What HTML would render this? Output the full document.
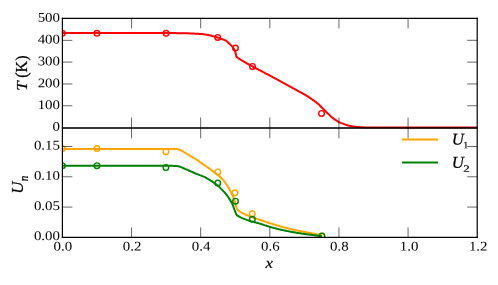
<!DOCTYPE html>
<html><head><meta charset="utf-8"><title>plot</title>
<style>
html,body{margin:0;padding:0;background:#fff;}
svg{display:block;will-change:transform;font-family:"Liberation Serif",serif;}
</style></head><body>
<svg width="498" height="285" viewBox="0 0 498 285">
<defs>
<clipPath id="c1"><rect x="62.4" y="18.4" width="414.8" height="110.39999999999999"/></clipPath>
<clipPath id="c2"><rect x="62.4" y="128.3" width="414.8" height="109.04999999999998"/></clipPath>
</defs>
<rect width="498" height="285" fill="#fff"/>
<g clip-path="url(#c1)">
<path d="M62.40,33.10 L63.10,33.10 L63.81,33.10 L64.51,33.10 L65.21,33.10 L65.92,33.10 L66.62,33.10 L67.32,33.10 L68.02,33.10 L68.73,33.10 L69.43,33.10 L70.13,33.10 L70.84,33.10 L71.54,33.10 L72.24,33.10 L72.95,33.10 L73.65,33.10 L74.35,33.10 L75.06,33.10 L75.76,33.10 L76.46,33.10 L77.16,33.10 L77.87,33.10 L78.57,33.10 L79.27,33.10 L79.98,33.10 L80.68,33.10 L81.38,33.10 L82.09,33.10 L82.79,33.10 L83.49,33.10 L84.20,33.10 L84.90,33.10 L85.60,33.10 L86.30,33.10 L87.01,33.10 L87.71,33.10 L88.41,33.10 L89.12,33.10 L89.82,33.10 L90.52,33.10 L91.23,33.10 L91.93,33.10 L92.63,33.10 L93.34,33.10 L94.04,33.10 L94.74,33.10 L95.44,33.10 L96.15,33.10 L96.85,33.10 L97.55,33.10 L98.26,33.10 L98.96,33.10 L99.66,33.10 L100.37,33.10 L101.07,33.10 L101.77,33.10 L102.48,33.10 L103.18,33.10 L103.88,33.10 L104.58,33.10 L105.29,33.10 L105.99,33.10 L106.69,33.10 L107.40,33.10 L108.10,33.10 L108.80,33.10 L109.51,33.10 L110.21,33.10 L110.91,33.10 L111.62,33.10 L112.32,33.10 L113.02,33.10 L113.72,33.10 L114.43,33.10 L115.13,33.10 L115.83,33.10 L116.54,33.10 L117.24,33.10 L117.94,33.10 L118.65,33.10 L119.35,33.10 L120.05,33.10 L120.76,33.10 L121.46,33.10 L122.16,33.10 L122.86,33.10 L123.57,33.10 L124.27,33.10 L124.97,33.10 L125.68,33.10 L126.38,33.10 L127.08,33.10 L127.79,33.10 L128.49,33.10 L129.19,33.10 L129.90,33.10 L130.60,33.10 L131.30,33.10 L132.01,33.10 L132.71,33.10 L133.41,33.10 L134.11,33.10 L134.82,33.10 L135.52,33.10 L136.22,33.10 L136.93,33.10 L137.63,33.10 L138.33,33.10 L139.04,33.10 L139.74,33.10 L140.44,33.10 L141.15,33.10 L141.85,33.10 L142.55,33.10 L143.25,33.10 L143.96,33.10 L144.66,33.10 L145.36,33.10 L146.07,33.10 L146.77,33.10 L147.47,33.10 L148.18,33.10 L148.88,33.10 L149.58,33.10 L150.29,33.10 L150.99,33.10 L151.69,33.10 L152.40,33.10 L153.10,33.10 L153.80,33.10 L154.50,33.10 L155.21,33.10 L155.91,33.10 L156.61,33.10 L157.32,33.10 L158.02,33.10 L158.72,33.10 L159.43,33.10 L160.13,33.10 L160.83,33.10 L161.54,33.10 L162.24,33.10 L162.94,33.10 L163.64,33.10 L164.35,33.10 L165.05,33.10 L165.75,33.10 L166.46,33.10 L167.16,33.10 L167.86,33.10 L168.57,33.10 L169.27,33.10 L169.97,33.10 L170.67,33.10 L171.38,33.10 L172.08,33.10 L172.78,33.10 L173.49,33.10 L174.19,33.10 L174.89,33.10 L175.60,33.10 L176.30,33.11 L177.00,33.13 L177.70,33.14 L178.41,33.16 L179.11,33.18 L179.81,33.20 L180.52,33.21 L181.22,33.22 L181.92,33.23 L182.63,33.24 L183.33,33.24 L184.03,33.25 L184.73,33.26 L185.44,33.27 L186.14,33.28 L186.84,33.30 L187.55,33.31 L188.25,33.33 L188.95,33.36 L189.65,33.39 L190.36,33.42 L191.06,33.45 L191.76,33.49 L192.46,33.52 L193.17,33.56 L193.87,33.59 L194.57,33.63 L195.27,33.66 L195.98,33.69 L196.68,33.73 L197.38,33.76 L198.08,33.80 L198.79,33.84 L199.49,33.88 L200.19,33.93 L200.89,33.98 L201.59,34.04 L202.29,34.11 L202.99,34.19 L203.68,34.28 L204.38,34.38 L205.08,34.48 L205.77,34.59 L206.47,34.71 L207.16,34.83 L207.85,34.95 L208.54,35.08 L209.23,35.23 L209.91,35.39 L210.59,35.56 L211.28,35.74 L211.96,35.92 L212.63,36.11 L213.31,36.29 L213.99,36.48 L214.67,36.67 L215.35,36.86 L216.02,37.05 L216.70,37.26 L217.37,37.46 L218.04,37.68 L218.70,37.90 L219.37,38.13 L220.03,38.36 L220.69,38.60 L221.35,38.85 L222.01,39.10 L222.67,39.35 L223.33,39.61 L224.00,39.86 L224.66,40.13 L225.30,40.42 L225.91,40.73 L226.49,41.09 L227.05,41.50 L227.59,41.96 L228.11,42.45 L228.62,42.94 L229.14,43.43 L229.65,43.91 L230.16,44.39 L230.67,44.89 L231.16,45.39 L231.63,45.91 L232.09,46.44 L232.55,46.98 L232.99,47.54 L233.41,48.11 L233.78,48.69 L234.11,49.30 L234.42,49.93 L234.71,50.58 L234.98,51.24 L235.22,51.90 L235.42,52.57 L235.61,53.24 L235.78,53.92 L235.94,54.61 L236.08,55.30 L236.20,56.00 L236.30,56.70 L236.30,56.70 L236.86,57.12 L237.43,57.54 L238.00,57.95 L238.58,58.35 L239.16,58.75 L239.74,59.14 L240.33,59.52 L240.92,59.89 L241.52,60.26 L242.12,60.62 L242.73,60.97 L243.34,61.33 L243.95,61.68 L244.56,62.03 L245.16,62.39 L245.77,62.74 L246.38,63.09 L246.99,63.44 L247.60,63.78 L248.21,64.13 L248.83,64.47 L249.44,64.81 L250.06,65.14 L250.68,65.48 L251.30,65.81 L251.91,66.14 L252.53,66.47 L253.15,66.80 L253.77,67.13 L254.40,67.46 L255.02,67.79 L255.64,68.12 L256.26,68.44 L256.88,68.77 L257.50,69.09 L258.13,69.42 L258.75,69.75 L259.37,70.07 L259.99,70.40 L260.62,70.72 L261.24,71.05 L261.86,71.37 L262.48,71.70 L263.10,72.03 L263.73,72.36 L264.35,72.68 L264.97,73.01 L265.59,73.34 L266.21,73.67 L266.83,73.99 L267.46,74.32 L268.08,74.65 L268.70,74.97 L269.32,75.30 L269.94,75.63 L270.56,75.96 L271.18,76.28 L271.81,76.61 L272.43,76.94 L273.05,77.27 L273.67,77.60 L274.29,77.93 L274.91,78.26 L275.52,78.60 L276.14,78.93 L276.76,79.27 L277.38,79.60 L277.99,79.94 L278.61,80.28 L279.22,80.62 L279.83,80.97 L280.44,81.32 L281.05,81.67 L281.66,82.02 L282.27,82.37 L282.88,82.71 L283.49,83.06 L284.10,83.40 L284.72,83.74 L285.33,84.08 L285.95,84.41 L286.57,84.74 L287.19,85.07 L287.82,85.40 L288.44,85.72 L289.06,86.05 L289.69,86.37 L290.31,86.70 L290.93,87.03 L291.55,87.36 L292.17,87.69 L292.78,88.03 L293.40,88.37 L294.01,88.71 L294.62,89.05 L295.24,89.39 L295.85,89.74 L296.46,90.08 L297.07,90.43 L297.69,90.77 L298.30,91.11 L298.91,91.45 L299.53,91.79 L300.15,92.13 L300.77,92.46 L301.39,92.79 L302.01,93.12 L302.63,93.45 L303.25,93.78 L303.87,94.12 L304.48,94.46 L305.09,94.81 L305.70,95.16 L306.30,95.52 L306.89,95.89 L307.49,96.26 L308.08,96.64 L308.67,97.03 L309.25,97.42 L309.84,97.81 L310.42,98.21 L310.99,98.61 L311.57,99.01 L312.14,99.42 L312.72,99.82 L313.29,100.23 L313.86,100.64 L314.43,101.06 L315.00,101.47 L315.57,101.89 L316.13,102.31 L316.69,102.74 L317.24,103.17 L317.78,103.62 L318.32,104.07 L318.84,104.53 L319.35,105.01 L319.85,105.50 L320.34,106.00 L320.82,106.52 L321.30,107.03 L321.78,107.55 L322.27,108.06 L322.76,108.56 L323.26,109.05 L323.76,109.54 L324.27,110.03 L324.77,110.52 L325.28,111.00 L325.79,111.49 L326.30,111.97 L326.81,112.45 L327.32,112.94 L327.83,113.42 L328.33,113.91 L328.83,114.41 L329.33,114.91 L329.83,115.40 L330.34,115.89 L330.85,116.37 L331.37,116.84 L331.91,117.29 L332.45,117.72 L333.01,118.15 L333.58,118.57 L334.15,118.98 L334.73,119.38 L335.31,119.78 L335.90,120.17 L336.48,120.55 L337.08,120.93 L337.67,121.30 L338.28,121.66 L338.90,122.00 L339.52,122.31 L340.16,122.60 L340.80,122.89 L341.45,123.16 L342.10,123.42 L342.76,123.67 L343.42,123.92 L344.08,124.16 L344.74,124.40 L345.41,124.63 L346.08,124.85 L346.75,125.06 L347.42,125.26 L348.10,125.45 L348.77,125.62 L349.46,125.78 L350.14,125.93 L350.83,126.07 L351.52,126.20 L352.22,126.32 L352.91,126.43 L353.61,126.53 L354.30,126.62 L355.00,126.71 L355.70,126.79 L356.40,126.87 L357.10,126.94 L357.80,127.01 L358.50,127.06 L359.20,127.11 L359.90,127.16 L360.60,127.21 L361.30,127.25 L362.00,127.29 L362.70,127.33 L363.40,127.36 L364.11,127.38 L364.81,127.40 L365.51,127.41 L366.21,127.42 L366.91,127.42 L367.62,127.43 L368.32,127.44 L369.02,127.45 L369.72,127.45 L370.43,127.46 L371.13,127.46 L371.83,127.47 L372.53,127.47 L373.24,127.48 L373.94,127.48 L374.64,127.49 L375.34,127.49 L376.05,127.49 L376.75,127.50 L377.45,127.50 L378.15,127.50 L378.86,127.50 L379.56,127.50 L380.26,127.50 L380.96,127.50 L381.67,127.50 L382.37,127.50 L383.07,127.50 L383.77,127.50 L384.48,127.50 L385.18,127.50 L385.88,127.50 L386.58,127.50 L387.29,127.50 L387.99,127.50 L388.69,127.50 L389.39,127.50 L390.10,127.50 L390.80,127.50 L391.50,127.50 L392.20,127.50 L392.91,127.50 L393.61,127.50 L394.31,127.50 L395.01,127.50 L395.72,127.50 L396.42,127.50 L397.12,127.50 L397.82,127.50 L398.53,127.50 L399.23,127.50 L399.93,127.50 L400.63,127.50 L401.34,127.50 L402.04,127.50 L402.74,127.50 L403.44,127.50 L404.15,127.50 L404.85,127.50 L405.55,127.50 L406.25,127.50 L406.95,127.50 L407.66,127.50 L408.36,127.50 L409.06,127.50 L409.76,127.50 L410.47,127.50 L411.17,127.50 L411.87,127.50 L412.57,127.50 L413.28,127.50 L413.98,127.50 L414.68,127.50 L415.38,127.50 L416.09,127.50 L416.79,127.50 L417.49,127.50 L418.19,127.50 L418.90,127.50 L419.60,127.50 L420.30,127.50 L421.00,127.50 L421.71,127.50 L422.41,127.50 L423.11,127.50 L423.81,127.50 L424.52,127.50 L425.22,127.50 L425.92,127.50 L426.62,127.50 L427.33,127.50 L428.03,127.50 L428.73,127.50 L429.43,127.50 L430.14,127.50 L430.84,127.50 L431.54,127.50 L432.24,127.50 L432.95,127.50 L433.65,127.50 L434.35,127.50 L435.05,127.50 L435.76,127.50 L436.46,127.50 L437.16,127.50 L437.86,127.50 L438.56,127.50 L439.27,127.50 L439.97,127.50 L440.67,127.50 L441.37,127.50 L442.08,127.50 L442.78,127.50 L443.48,127.50 L444.18,127.50 L444.89,127.50 L445.59,127.50 L446.29,127.50 L446.99,127.50 L447.70,127.50 L448.40,127.50 L449.10,127.50 L449.80,127.50 L450.51,127.50 L451.21,127.50 L451.91,127.50 L452.61,127.50 L453.32,127.50 L454.02,127.50 L454.72,127.50 L455.42,127.50 L456.13,127.50 L456.83,127.50 L457.53,127.50 L458.23,127.50 L458.94,127.50 L459.64,127.50 L460.34,127.50 L461.04,127.50 L461.75,127.50 L462.45,127.50 L463.15,127.50 L463.85,127.50 L464.56,127.50 L465.26,127.50 L465.96,127.50 L466.66,127.50 L467.37,127.50 L468.07,127.50 L468.77,127.50 L469.47,127.50 L470.18,127.50 L470.88,127.50 L471.58,127.50 L472.28,127.50 L472.99,127.50 L473.69,127.50 L474.39,127.50 L475.09,127.50 L475.80,127.50 L476.50,127.50 L477.20,127.50" fill="none" stroke="#ff0000" stroke-width="2" stroke-linejoin="round"/>
<circle cx="62.40" cy="33.30" r="2.8" fill="none" stroke="#ff0000" stroke-width="1.4"/>
<circle cx="96.97" cy="33.30" r="2.8" fill="none" stroke="#ff0000" stroke-width="1.4"/>
<circle cx="166.10" cy="33.30" r="2.8" fill="none" stroke="#ff0000" stroke-width="1.4"/>
<circle cx="217.70" cy="37.40" r="2.8" fill="none" stroke="#ff0000" stroke-width="1.4"/>
<circle cx="235.40" cy="48.00" r="2.8" fill="none" stroke="#ff0000" stroke-width="1.4"/>
<circle cx="252.50" cy="66.40" r="2.8" fill="none" stroke="#ff0000" stroke-width="1.4"/>
<circle cx="321.50" cy="113.40" r="2.8" fill="none" stroke="#ff0000" stroke-width="1.4"/>
</g>
<g clip-path="url(#c2)">
<path d="M62.40,149.10 L120.00,149.10 L176.50,149.10 L176.50,149.10 L177.22,149.16 L177.93,149.27 L178.62,149.41 L179.29,149.58 L179.95,149.83 L180.59,150.15 L181.23,150.49 L181.86,150.83 L182.48,151.17 L183.09,151.52 L183.70,151.89 L184.31,152.26 L184.91,152.63 L185.52,153.01 L186.13,153.38 L186.74,153.74 L187.34,154.11 L187.95,154.48 L188.56,154.85 L189.17,155.22 L189.77,155.58 L190.38,155.95 L190.99,156.31 L191.61,156.67 L192.22,157.03 L192.83,157.39 L193.44,157.76 L194.05,158.12 L194.65,158.50 L195.26,158.87 L195.86,159.25 L196.46,159.63 L197.06,160.01 L197.66,160.40 L198.25,160.79 L198.83,161.19 L199.41,161.60 L199.98,162.02 L200.55,162.45 L201.12,162.88 L201.68,163.31 L202.25,163.73 L202.83,164.15 L203.41,164.56 L204.00,164.96 L204.59,165.35 L205.18,165.74 L205.78,166.13 L206.37,166.52 L206.96,166.92 L207.55,167.31 L208.14,167.72 L208.72,168.12 L209.29,168.54 L209.87,168.96 L210.44,169.38 L211.01,169.81 L211.58,170.23 L212.14,170.66 L212.71,171.08 L213.28,171.51 L213.86,171.93 L214.42,172.35 L214.99,172.78 L215.55,173.22 L216.11,173.65 L216.68,174.09 L217.25,174.52 L217.81,174.96 L218.37,175.41 L218.92,175.85 L219.47,176.31 L220.00,176.77 L220.53,177.25 L221.04,177.73 L221.53,178.23 L222.02,178.75 L222.51,179.27 L222.98,179.80 L223.45,180.35 L223.90,180.90 L224.35,181.45 L224.79,182.01 L225.21,182.58 L225.63,183.15 L226.03,183.73 L226.43,184.31 L226.82,184.91 L227.21,185.51 L227.59,186.11 L227.96,186.72 L228.32,187.33 L228.68,187.95 L229.04,188.57 L229.38,189.19 L229.72,189.81 L230.06,190.43 L230.39,191.06 L230.71,191.69 L231.03,192.33 L231.34,192.97 L231.65,193.61 L231.95,194.26 L232.24,194.91 L232.52,195.56 L232.81,196.21 L233.09,196.86 L233.36,197.52 L233.63,198.18 L233.89,198.84 L234.14,199.50 L234.38,200.17 L234.61,200.84 L234.83,201.52 L235.03,202.20 L235.21,202.89 L235.39,203.57 L235.57,204.26 L235.75,204.95 L235.95,205.63 L236.17,206.31 L236.41,206.97 L236.66,207.64 L236.93,208.29 L237.21,208.95 L237.50,209.60 L237.50,209.60 L238.03,210.08 L238.56,210.55 L239.11,211.00 L239.67,211.43 L240.25,211.84 L240.83,212.23 L241.42,212.59 L242.03,212.94 L242.66,213.27 L243.29,213.58 L243.93,213.88 L244.58,214.18 L245.22,214.47 L245.87,214.75 L246.52,215.03 L247.17,215.29 L247.83,215.55 L248.48,215.81 L249.14,216.06 L249.80,216.31 L250.46,216.56 L251.13,216.80 L251.79,217.04 L252.46,217.28 L253.12,217.51 L253.79,217.74 L254.46,217.97 L255.12,218.21 L255.79,218.44 L256.45,218.67 L257.12,218.90 L257.79,219.13 L258.45,219.36 L259.12,219.59 L259.79,219.82 L260.46,220.05 L261.12,220.28 L261.79,220.51 L262.46,220.74 L263.13,220.97 L263.79,221.19 L264.46,221.42 L265.13,221.64 L265.80,221.87 L266.47,222.09 L267.14,222.31 L267.81,222.53 L268.48,222.75 L269.15,222.96 L269.83,223.18 L270.50,223.39 L271.17,223.60 L271.85,223.81 L272.52,224.02 L273.19,224.23 L273.87,224.43 L274.55,224.63 L275.22,224.83 L275.90,225.03 L276.58,225.23 L277.25,225.43 L277.93,225.63 L278.61,225.82 L279.29,226.02 L279.96,226.22 L280.64,226.42 L281.32,226.61 L282.00,226.80 L282.68,226.99 L283.36,227.17 L284.04,227.35 L284.73,227.52 L285.41,227.69 L286.10,227.86 L286.78,228.03 L287.47,228.20 L288.15,228.37 L288.84,228.53 L289.52,228.70 L290.21,228.87 L290.89,229.04 L291.58,229.20 L292.27,229.37 L292.95,229.53 L293.64,229.69 L294.33,229.85 L295.02,230.00 L295.71,230.15 L296.40,230.30 L297.09,230.44 L297.78,230.58 L298.47,230.72 L299.16,230.86 L299.86,230.99 L300.55,231.13 L301.24,231.26 L301.93,231.40 L302.63,231.53 L303.32,231.67 L304.01,231.80 L304.70,231.94 L305.40,232.08 L306.09,232.21 L306.78,232.35 L307.47,232.48 L308.16,232.62 L308.86,232.76 L309.55,232.89 L310.24,233.03 L310.93,233.17 L311.63,233.30 L312.32,233.44 L313.01,233.58 L313.70,233.72 L314.39,233.86 L315.09,233.99 L315.78,234.13 L316.47,234.27 L317.16,234.41 L317.85,234.55 L318.54,234.69 L319.24,234.83 L319.93,234.97 L320.62,235.11 L321.31,235.26 L322.00,235.40" fill="none" stroke="#ffa500" stroke-width="2" stroke-linejoin="round"/>
<circle cx="62.40" cy="148.60" r="2.8" fill="none" stroke="#ffa500" stroke-width="1.4"/>
<circle cx="96.97" cy="148.60" r="2.8" fill="none" stroke="#ffa500" stroke-width="1.4"/>
<circle cx="165.90" cy="151.70" r="2.8" fill="none" stroke="#ffa500" stroke-width="1.4"/>
<circle cx="217.80" cy="171.90" r="2.8" fill="none" stroke="#ffa500" stroke-width="1.4"/>
<circle cx="235.00" cy="192.80" r="2.8" fill="none" stroke="#ffa500" stroke-width="1.4"/>
<circle cx="252.30" cy="213.80" r="2.8" fill="none" stroke="#ffa500" stroke-width="1.4"/>
<circle cx="321.90" cy="236.00" r="2.8" fill="none" stroke="#ffa500" stroke-width="1.4"/>
<path d="M62.40,165.80 L63.10,165.80 L63.81,165.80 L64.51,165.80 L65.21,165.80 L65.91,165.80 L66.62,165.80 L67.32,165.80 L68.02,165.80 L68.73,165.80 L69.43,165.80 L70.13,165.80 L70.83,165.80 L71.54,165.80 L72.24,165.80 L72.94,165.80 L73.65,165.80 L74.35,165.80 L75.05,165.80 L75.75,165.80 L76.46,165.80 L77.16,165.80 L77.86,165.80 L78.57,165.80 L79.27,165.80 L79.97,165.80 L80.67,165.80 L81.38,165.80 L82.08,165.80 L82.78,165.80 L83.49,165.80 L84.19,165.80 L84.89,165.80 L85.59,165.80 L86.30,165.80 L87.00,165.80 L87.70,165.80 L88.40,165.80 L89.11,165.80 L89.81,165.80 L90.51,165.80 L91.22,165.80 L91.92,165.80 L92.62,165.80 L93.32,165.80 L94.03,165.80 L94.73,165.80 L95.43,165.80 L96.14,165.80 L96.84,165.80 L97.54,165.80 L98.24,165.80 L98.95,165.80 L99.65,165.80 L100.35,165.80 L101.06,165.80 L101.76,165.80 L102.46,165.80 L103.16,165.80 L103.87,165.80 L104.57,165.80 L105.27,165.80 L105.98,165.80 L106.68,165.80 L107.38,165.80 L108.08,165.80 L108.79,165.80 L109.49,165.80 L110.19,165.80 L110.90,165.80 L111.60,165.80 L112.30,165.80 L113.00,165.80 L113.71,165.80 L114.41,165.80 L115.11,165.80 L115.82,165.80 L116.52,165.80 L117.22,165.80 L117.92,165.80 L118.63,165.80 L119.33,165.80 L120.03,165.80 L120.74,165.80 L121.44,165.80 L122.14,165.80 L122.84,165.80 L123.55,165.80 L124.25,165.80 L124.95,165.80 L125.66,165.80 L126.36,165.80 L127.06,165.80 L127.76,165.80 L128.47,165.80 L129.17,165.80 L129.87,165.80 L130.58,165.80 L131.28,165.80 L131.98,165.80 L132.68,165.80 L133.39,165.80 L134.09,165.80 L134.79,165.80 L135.50,165.80 L136.20,165.80 L136.90,165.80 L137.60,165.80 L138.31,165.80 L139.01,165.80 L139.71,165.80 L140.42,165.80 L141.12,165.80 L141.82,165.80 L142.52,165.80 L143.23,165.80 L143.93,165.80 L144.63,165.80 L145.34,165.80 L146.04,165.80 L146.74,165.80 L147.44,165.80 L148.15,165.80 L148.85,165.80 L149.55,165.80 L150.26,165.80 L150.96,165.80 L151.66,165.80 L152.36,165.80 L153.07,165.80 L153.77,165.80 L154.47,165.80 L155.18,165.80 L155.88,165.80 L156.58,165.80 L157.28,165.80 L157.99,165.80 L158.69,165.80 L159.39,165.80 L160.10,165.80 L160.80,165.80 L161.50,165.80 L162.20,165.80 L162.91,165.80 L163.61,165.80 L164.31,165.80 L165.01,165.80 L165.72,165.80 L166.42,165.80 L167.12,165.80 L167.83,165.80 L168.53,165.80 L169.23,165.80 L169.93,165.80 L170.64,165.80 L171.34,165.81 L172.04,165.83 L172.75,165.85 L173.45,165.88 L174.15,165.91 L174.85,165.94 L175.56,165.99 L176.27,166.05 L176.97,166.12 L177.67,166.21 L178.36,166.30 L179.04,166.41 L179.71,166.57 L180.37,166.80 L181.02,167.08 L181.66,167.38 L182.31,167.70 L182.95,167.99 L183.60,168.26 L184.25,168.53 L184.90,168.80 L185.55,169.07 L186.20,169.34 L186.84,169.62 L187.49,169.90 L188.13,170.18 L188.77,170.47 L189.41,170.76 L190.05,171.05 L190.69,171.35 L191.33,171.64 L191.97,171.92 L192.62,172.20 L193.26,172.49 L193.91,172.77 L194.55,173.04 L195.20,173.31 L195.85,173.58 L196.50,173.84 L197.16,174.09 L197.82,174.34 L198.48,174.59 L199.13,174.83 L199.79,175.08 L200.45,175.33 L201.11,175.58 L201.77,175.82 L202.43,176.07 L203.09,176.32 L203.73,176.59 L204.37,176.88 L204.99,177.19 L205.61,177.53 L206.22,177.88 L206.82,178.24 L207.43,178.61 L208.03,178.98 L208.63,179.34 L209.24,179.70 L209.84,180.06 L210.44,180.42 L211.04,180.79 L211.64,181.16 L212.23,181.55 L212.81,181.94 L213.37,182.35 L213.94,182.78 L214.49,183.21 L215.05,183.64 L215.61,184.06 L216.18,184.47 L216.75,184.89 L217.32,185.30 L217.87,185.73 L218.41,186.18 L218.94,186.64 L219.45,187.12 L219.96,187.61 L220.46,188.10 L220.96,188.60 L221.45,189.11 L221.94,189.61 L222.42,190.12 L222.91,190.63 L223.40,191.14 L223.88,191.65 L224.36,192.16 L224.83,192.69 L225.29,193.22 L225.73,193.76 L226.16,194.31 L226.59,194.87 L227.01,195.44 L227.42,196.01 L227.82,196.58 L228.22,197.17 L228.62,197.75 L229.00,198.34 L229.38,198.93 L229.75,199.53 L230.12,200.12 L230.49,200.72 L230.86,201.33 L231.22,201.94 L231.56,202.55 L231.90,203.17 L232.22,203.79 L232.52,204.42 L232.80,205.06 L233.06,205.71 L233.31,206.37 L233.54,207.03 L233.77,207.70 L234.00,208.37 L234.23,209.03 L234.47,209.70 L234.72,210.35 L234.98,211.01 L235.24,211.66 L235.51,212.31 L235.77,212.96 L236.05,213.61 L236.32,214.25 L236.60,214.90 L236.60,214.90 L237.19,215.30 L237.78,215.70 L238.38,216.08 L238.99,216.45 L239.60,216.80 L240.22,217.14 L240.84,217.47 L241.47,217.78 L242.11,218.09 L242.76,218.37 L243.41,218.65 L244.07,218.92 L244.73,219.18 L245.39,219.43 L246.06,219.68 L246.72,219.91 L247.39,220.14 L248.07,220.36 L248.75,220.57 L249.42,220.78 L250.10,220.98 L250.78,221.16 L251.47,221.35 L252.15,221.53 L252.84,221.70 L253.53,221.88 L254.21,222.06 L254.89,222.24 L255.58,222.43 L256.26,222.63 L256.94,222.82 L257.62,223.02 L258.30,223.21 L258.98,223.41 L259.66,223.62 L260.34,223.82 L261.01,224.03 L261.69,224.24 L262.36,224.46 L263.04,224.68 L263.71,224.90 L264.38,225.12 L265.06,225.34 L265.73,225.55 L266.41,225.76 L267.08,225.98 L267.76,226.19 L268.43,226.40 L269.11,226.61 L269.79,226.81 L270.47,227.01 L271.15,227.21 L271.83,227.41 L272.51,227.60 L273.19,227.79 L273.88,227.97 L274.56,228.15 L275.25,228.33 L275.93,228.51 L276.62,228.68 L277.31,228.85 L277.99,229.02 L278.68,229.19 L279.37,229.35 L280.06,229.52 L280.75,229.68 L281.44,229.84 L282.13,229.99 L282.82,230.14 L283.52,230.29 L284.21,230.43 L284.90,230.57 L285.60,230.71 L286.29,230.84 L286.99,230.97 L287.69,231.11 L288.38,231.24 L289.08,231.37 L289.77,231.51 L290.47,231.65 L291.16,231.78 L291.86,231.92 L292.55,232.05 L293.25,232.18 L293.94,232.31 L294.64,232.44 L295.34,232.56 L296.04,232.68 L296.74,232.79 L297.43,232.91 L298.13,233.02 L298.83,233.13 L299.53,233.24 L300.23,233.35 L300.93,233.46 L301.63,233.56 L302.33,233.66 L303.04,233.76 L303.74,233.86 L304.44,233.96 L305.14,234.05 L305.84,234.15 L306.54,234.23 L307.25,234.32 L307.95,234.41 L308.65,234.50 L309.36,234.58 L310.06,234.67 L310.76,234.76 L311.46,234.85 L312.17,234.94 L312.87,235.03 L313.57,235.12 L314.27,235.21 L314.98,235.30 L315.68,235.39 L316.38,235.48 L317.08,235.57 L317.79,235.66 L318.49,235.75 L319.19,235.84 L319.89,235.93 L320.60,236.02 L321.30,236.11 L322.00,236.20" fill="none" stroke="#008000" stroke-width="2" stroke-linejoin="round"/>
<circle cx="62.40" cy="165.70" r="2.8" fill="none" stroke="#008000" stroke-width="1.4"/>
<circle cx="96.97" cy="165.70" r="2.8" fill="none" stroke="#008000" stroke-width="1.4"/>
<circle cx="165.90" cy="167.60" r="2.8" fill="none" stroke="#008000" stroke-width="1.4"/>
<circle cx="217.80" cy="183.00" r="2.8" fill="none" stroke="#008000" stroke-width="1.4"/>
<circle cx="235.50" cy="201.20" r="2.8" fill="none" stroke="#008000" stroke-width="1.4"/>
<circle cx="252.30" cy="219.30" r="2.8" fill="none" stroke="#008000" stroke-width="1.4"/>
<circle cx="321.90" cy="236.00" r="2.8" fill="none" stroke="#008000" stroke-width="1.4"/>
</g>
<g stroke="#000" stroke-width="0.6">
<line x1="131.53" x2="131.53" y1="18.4" y2="28.4"/>
<line x1="131.53" x2="131.53" y1="117.5" y2="138.3"/>
<line x1="131.53" x2="131.53" y1="227.35" y2="237.35"/>
<line x1="200.67" x2="200.67" y1="18.4" y2="28.4"/>
<line x1="200.67" x2="200.67" y1="117.5" y2="138.3"/>
<line x1="200.67" x2="200.67" y1="227.35" y2="237.35"/>
<line x1="269.80" x2="269.80" y1="18.4" y2="28.4"/>
<line x1="269.80" x2="269.80" y1="117.5" y2="138.3"/>
<line x1="269.80" x2="269.80" y1="227.35" y2="237.35"/>
<line x1="338.93" x2="338.93" y1="18.4" y2="28.4"/>
<line x1="338.93" x2="338.93" y1="117.5" y2="138.3"/>
<line x1="338.93" x2="338.93" y1="227.35" y2="237.35"/>
<line x1="408.07" x2="408.07" y1="18.4" y2="28.4"/>
<line x1="408.07" x2="408.07" y1="117.5" y2="138.3"/>
<line x1="408.07" x2="408.07" y1="227.35" y2="237.35"/>
<line x1="62.4" x2="72.4" y1="105.78" y2="105.78"/>
<line x1="467.2" x2="477.2" y1="105.78" y2="105.78"/>
<line x1="62.4" x2="72.4" y1="83.96" y2="83.96"/>
<line x1="467.2" x2="477.2" y1="83.96" y2="83.96"/>
<line x1="62.4" x2="72.4" y1="62.14" y2="62.14"/>
<line x1="467.2" x2="477.2" y1="62.14" y2="62.14"/>
<line x1="62.4" x2="72.4" y1="40.32" y2="40.32"/>
<line x1="467.2" x2="477.2" y1="40.32" y2="40.32"/>
<line x1="62.4" x2="72.4" y1="207.07" y2="207.07"/>
<line x1="467.2" x2="477.2" y1="207.07" y2="207.07"/>
<line x1="62.4" x2="72.4" y1="176.79" y2="176.79"/>
<line x1="467.2" x2="477.2" y1="176.79" y2="176.79"/>
<line x1="62.4" x2="72.4" y1="146.51" y2="146.51"/>
<line x1="467.2" x2="477.2" y1="146.51" y2="146.51"/>
</g>
<g stroke="#000" stroke-width="1.2" fill="none">
<line x1="61.8" x2="477.8" y1="18.4" y2="18.4"/>
<line x1="61.8" x2="477.8" y1="237.35" y2="237.35"/>
<line x1="62.4" x2="62.4" y1="17.799999999999997" y2="237.95"/>
<line x1="477.2" x2="477.2" y1="17.799999999999997" y2="237.95"/>
<line x1="61.9" x2="477.7" y1="128" y2="128" stroke="#000" stroke-opacity="0.78" stroke-width="2"/>
</g>
<line x1="401.9" x2="438.1" y1="139.5" y2="139.5" stroke="#ffa500" stroke-width="2"/>
<line x1="401.9" x2="438.1" y1="162.6" y2="162.6" stroke="#008000" stroke-width="2"/>
<g font-size="13.2px" fill="#000">
<text transform="translate(62.90,250.50) rotate(0.03) scale(1.13,1)" text-anchor="middle">0.0</text>
<text transform="translate(132.03,250.50) rotate(0.03) scale(1.13,1)" text-anchor="middle">0.2</text>
<text transform="translate(201.17,250.50) rotate(0.03) scale(1.13,1)" text-anchor="middle">0.4</text>
<text transform="translate(270.30,250.50) rotate(0.03) scale(1.13,1)" text-anchor="middle">0.6</text>
<text transform="translate(339.43,250.50) rotate(0.03) scale(1.13,1)" text-anchor="middle">0.8</text>
<text transform="translate(409.07,250.50) rotate(0.03) scale(1.13,1)" text-anchor="middle">1.0</text>
<text transform="translate(478.20,250.50) rotate(0.03) scale(1.13,1)" text-anchor="middle">1.2</text>
<text transform="translate(60.00,130.80) rotate(0.03) scale(1.13,1)" text-anchor="end">0</text>
<text transform="translate(60.00,108.98) rotate(0.03) scale(1.13,1)" text-anchor="end">100</text>
<text transform="translate(60.00,87.16) rotate(0.03) scale(1.13,1)" text-anchor="end">200</text>
<text transform="translate(60.00,65.34) rotate(0.03) scale(1.13,1)" text-anchor="end">300</text>
<text transform="translate(60.00,43.52) rotate(0.03) scale(1.13,1)" text-anchor="end">400</text>
<text transform="translate(60.00,21.70) rotate(0.03) scale(1.13,1)" text-anchor="end">500</text>
<text transform="translate(60.00,240.10) rotate(0.03) scale(1.13,1)" text-anchor="end">0.00</text>
<text transform="translate(60.00,210.07) rotate(0.03) scale(1.13,1)" text-anchor="end">0.05</text>
<text transform="translate(60.00,179.79) rotate(0.03) scale(1.13,1)" text-anchor="end">0.10</text>
<text transform="translate(60.00,149.51) rotate(0.03) scale(1.13,1)" text-anchor="end">0.15</text>
</g>
<g fill="#000" stroke="#000" stroke-width="0.2">
<text transform="translate(26.950,90.749) rotate(-90) scale(1.0568,0.9423)" font-size="16.0px" style="font-style:italic">T</text>
<text transform="translate(26.673,77.773) rotate(-90) scale(1.0048,1.0347)" font-size="16.0px">(K)</text>
<text transform="translate(23.233,193.757) rotate(-90) scale(1.0570,1.0464)" font-size="16.0px" style="font-style:italic">U</text>
<text transform="translate(28.410,181.237) rotate(-90) scale(1.0053,1.0948)" font-size="11.0px" style="font-style:italic">n</text>
<text transform="translate(265.619,267.950) rotate(0.03) scale(1.0534,0.9615)" font-size="16.0px" style="font-style:italic">x</text>
<text transform="translate(451.757,144.586) rotate(0.03) scale(1.0478,1.0227)" font-size="16.0px" style="font-style:italic">U</text>
<text transform="translate(463.250,148.150) rotate(0.03) scale(1.0000,0.9618)" font-size="10.0px">1</text>
<text transform="translate(451.757,167.785) rotate(0.03) scale(1.0478,1.0322)" font-size="16.0px" style="font-style:italic">U</text>
<text transform="translate(463.265,171.650) rotate(0.03) scale(1.3000,0.9697)" font-size="10.0px">2</text>
</g>
</svg>
</body></html>
